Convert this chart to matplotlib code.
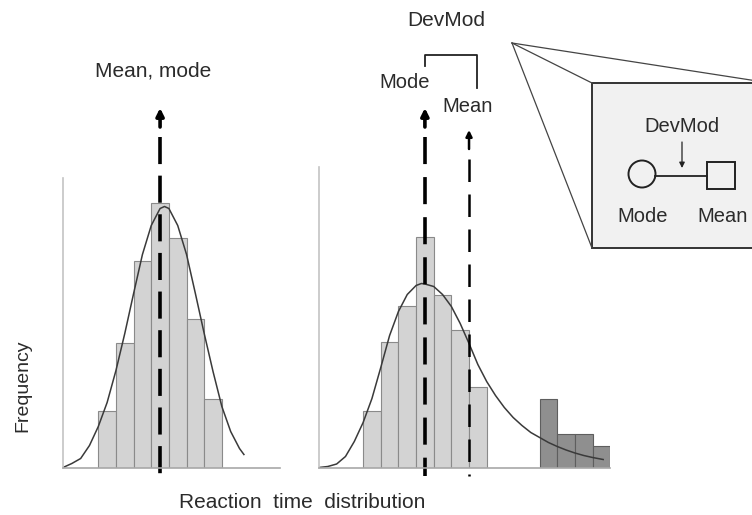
import numpy as np
import matplotlib
matplotlib.use('Agg')
import matplotlib.pyplot as plt
from matplotlib.patches import Circle, Rectangle

plt.rcParams['font.family'] = ['Liberation Sans', 'DejaVu Sans']

# ---- data (x in bin units, y in frequency units) ----
# normal-looking distribution (left panel)
left_edges = [2, 3, 4, 5, 6, 7, 8]
left_freq = [5.7, 12.5, 20.7, 26.5, 23.0, 14.9, 6.9]
left_curve_x = [0.0, 0.5, 1.0, 1.5, 2.0, 2.5, 3.0, 3.5, 4.0, 4.5, 5.0, 5.5, 5.75,
                6.0, 6.5, 7.0, 7.5, 8.0, 8.5, 9.0, 9.5, 10.0, 10.25]
left_curve_y = [0.0, 0.4, 0.9, 2.2, 4.1, 6.5, 9.7, 13.4, 17.4, 21.3, 24.2, 25.9, 26.1,
                25.9, 24.2, 21.3, 17.4, 13.4, 9.6, 6.1, 3.6, 1.9, 1.3]
left_mean = 5.5

# skewed distribution with slow outliers (right panel)
right_edges = [2.5, 3.5, 4.5, 5.5, 6.5, 7.5, 8.5]
right_freq = [5.7, 12.6, 16.2, 23.1, 17.3, 13.8, 8.1]
slow_edges = [12.5, 13.5, 14.5, 15.5]
slow_freq = [6.9, 3.4, 3.4, 2.2]
right_curve_x = [0.0, 0.5, 1.0, 1.5, 2.0, 2.5, 3.0, 3.5, 4.0, 4.5, 5.0, 5.5, 5.8, 6.0,
                 6.5, 7.0, 7.5, 8.0, 8.5, 9.0, 9.5, 10.0, 10.5, 11.0, 11.5, 12.0, 12.5,
                 13.0, 13.5, 14.0, 14.5, 15.0, 15.5, 16.1]
right_curve_y = [0.0, 0.1, 0.35, 1.1, 2.6, 4.5, 6.9, 10.0, 13.2, 15.6, 17.3, 18.2, 18.4, 18.35,
                 18.1, 17.3, 16.1, 14.4, 12.4, 10.3, 8.6, 7.2, 6.0, 5.0, 4.2, 3.5, 3.0,
                 2.5, 2.1, 1.75, 1.45, 1.2, 1.0, 0.8]
right_mode = 6.0
right_mean = 8.5

# ---- figure ----
W, H = 752, 515
fig = plt.figure(figsize=(W / 100, H / 100), dpi=100)


def px_axes(x0, x1, ytop, ybot):
    return fig.add_axes([x0 / W, 1 - ybot / H, (x1 - x0) / W, (ybot - ytop) / H])


bin_px = 17.65
base = 467.5

ax1 = px_axes(63, 280, 178, base)
ax1.set_xlim(0, (280 - 63) / bin_px)
ax1.set_ylim(0, (base - 178) / 10)

ax2 = px_axes(319, 610, 167, base)
ax2.set_xlim(0, (610 - 319) / bin_px)
ax2.set_ylim(0, (base - 167) / 10)

light = '#d3d3d3'
dark = '#8f8f8f'
for ax in (ax1, ax2):
    for s in ('top', 'right'):
        ax.spines[s].set_visible(False)
    ax.spines['left'].set_color('#c4c4c4')
    ax.spines['bottom'].set_color('#a8a8a8')
    ax.spines['left'].set_linewidth(1.2)
    ax.spines['bottom'].set_linewidth(1.2)
    ax.set_xticks([])
    ax.set_yticks([])
    ax.patch.set_alpha(0)

ax1.bar(left_edges, left_freq, width=1, align='edge', color=light, edgecolor='#8a8a8a', lw=0.8)
ax1.plot(left_curve_x, left_curve_y, color='#3a3a3a', lw=1.1)

ax2.bar(right_edges, right_freq, width=1, align='edge', color=light, edgecolor='#8a8a8a', lw=0.8)
ax2.bar(slow_edges, slow_freq, width=1, align='edge', color=dark, edgecolor='#5e5e5e', lw=0.8)
ax2.plot(right_curve_x, right_curve_y, color='#3a3a3a', lw=1.1)


def dashed_arrow(ax, x, tip, lw, on, off, head):
    # solid arrow head with a short stem, then a dashed line down below the baseline
    ax.annotate('', xy=(x, tip), xytext=(x, tip - 1.9), xycoords='data',
                arrowprops=dict(arrowstyle='-|>', color='black', lw=lw,
                                mutation_scale=head, shrinkA=0, shrinkB=0),
                annotation_clip=False)
    ax.plot([x, x], [tip - 2.9, -0.8], color='black', lw=lw,
            linestyle=(0, (on, off)), clip_on=False, solid_capstyle='butt',
            dash_capstyle='butt')


dashed_arrow(ax1, left_mean, 35.95, 2.6, 7.5, 3.2, 11)
dashed_arrow(ax2, right_mode, 35.95, 2.6, 7.5, 3.6, 11)
dashed_arrow(ax2, right_mean, 33.75, 1.8, 9.0, 5.0, 9)

# ---- annotation layer in pixel coordinates ----
ov = fig.add_axes([0, 0, 1, 1])
ov.set_xlim(0, W)
ov.set_ylim(H, 0)
ov.axis('off')
ov.patch.set_alpha(0)

tc = '#2b2b2b'
fs = 14.5
ov.text(153, 71, 'Mean, mode', ha='center', va='center', fontsize=15, color=tc)
ov.text(446, 20, 'DevMod', ha='center', va='center', fontsize=15, color=tc)
ov.text(405, 82, 'Mode', ha='center', va='center', fontsize=fs, color=tc)
ov.text(468, 107, 'Mean', ha='center', va='center', fontsize=fs, color=tc)
ov.text(23, 386, 'Frequency', ha='center', va='center', fontsize=14, color=tc, rotation=90)
ov.text(302, 503, 'Reaction  time  distribution', ha='center', va='center', fontsize=15, color=tc)

# bracket between mode and mean
ov.plot([425, 425, 477, 477], [66, 55, 55, 88], color='#222222', lw=1.3)

# zoom-in callout
apex = (512, 43)
box_l, box_t, box_b, box_r = 592, 83, 248, 770
ov.add_patch(Rectangle((box_l, box_t), box_r - box_l, box_b - box_t,
                       facecolor='#f1f1f1', edgecolor='#333333', lw=1.4, clip_on=True))
for px, py in [(box_l, box_t), (box_l, box_b), (box_r, box_t)]:
    ov.plot([apex[0], px], [apex[1], py], color='#444444', lw=0.9)

ov.text(682, 127, 'DevMod', ha='center', va='center', fontsize=fs, color=tc)
ov.annotate('', xy=(682, 168), xytext=(682, 142),
            arrowprops=dict(arrowstyle='-|>', color='#222222', lw=0.9,
                            mutation_scale=8, shrinkA=0, shrinkB=0))
ov.plot([655, 707], [175.5, 175.5], color='#222222', lw=1.3)
ov.add_patch(Circle((642, 174), 13.5, facecolor='#f1f1f1', edgecolor='#222222', lw=1.4))
ov.add_patch(Rectangle((707, 161.5), 28, 27, facecolor='#f1f1f1', edgecolor='#222222', lw=1.4))
ov.text(643, 217, 'Mode', ha='center', va='center', fontsize=fs, color=tc)
ov.text(723, 217, 'Mean', ha='center', va='center', fontsize=fs, color=tc)

fig.savefig('out.png', dpi=100)
